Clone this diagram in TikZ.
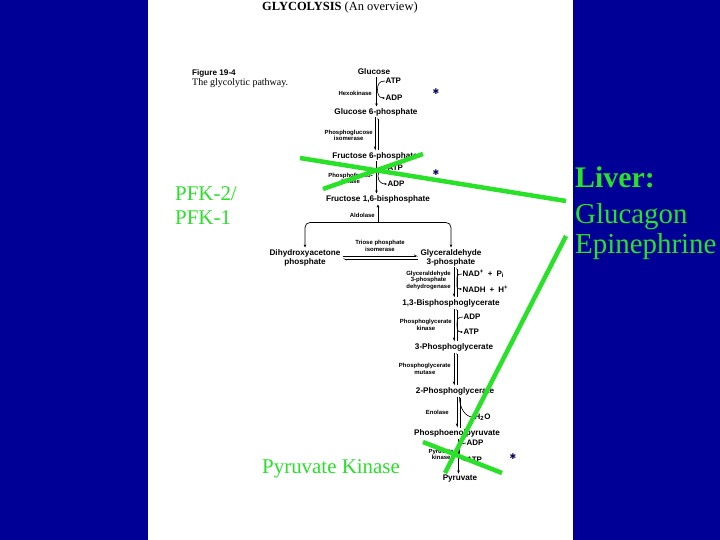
\documentclass[tikz,border=0pt]{standalone}
\usepackage{fontspec}
\setmainfont{Liberation Serif}
\newfontfamily\figsans{Liberation Sans}
\newfontfamily\symfont{DejaVu Sans}
\usetikzlibrary{arrows.meta,calc}
\definecolor{slideblue}{RGB}{0,0,150}
\definecolor{hilite}{RGB}{40,225,40}
\definecolor{stardark}{RGB}{10,10,90}
\begin{document}
\begin{tikzpicture}[x=1bp,y=-1bp,
 met/.style={font=\figsans\bfseries\fontsize{8.2}{9}\selectfont,inner sep=0.5pt,align=center},
 enz/.style={font=\figsans\bfseries\fontsize{6}{6.5}\selectfont,inner sep=0pt,align=center,anchor=east},
 cof/.style={font=\figsans\bfseries\fontsize{8}{9}\selectfont,inner sep=0.5pt,anchor=west},
 fwd/.style={line width=0.7bp,-{Stealth[length=3.2pt,width=2.6pt]},shorten <=1pt,shorten >=1pt},
 half/.style={line width=0.6bp,-{Straight Barb[right,length=2.6pt,width=2.4pt]},shorten <=1pt,shorten >=1pt},
 halfl/.style={line width=0.6bp,-{Straight Barb[left,length=2.6pt,width=2.4pt]}},
 side/.style={line width=0.6bp,-{Stealth[length=2.6pt,width=2.2pt]}},
 note/.style={text=hilite,inner sep=0pt,anchor=base west,font=\fontsize{21}{24}\selectfont},
 big/.style={text=hilite,inner sep=0pt,anchor=base west,font=\fontsize{29}{32}\selectfont},
 strike/.style={hilite,line width=4.5bp},
 star/.style={text=stardark,inner sep=0pt,font=\symfont\fontsize{8}{8}\selectfont}]
 \useasboundingbox (0,0) rectangle (720,540);
 \fill[slideblue] (0,0) rectangle (720,540);
 \fill[white] (148,0) rectangle (573,540);
 \node[inner sep=0pt,anchor=base west,font=\fontsize{12.5}{13}\selectfont] (title) at (262,11) {\textbf{GLYCOLYSIS} (An overview)};
 \node[anchor=base west,inner sep=0pt,font=\figsans\bfseries\fontsize{8.2}{9}\selectfont] (figno) at (192,76) {Figure 19-4};
 \node[anchor=base west,inner sep=0pt,font=\fontsize{10}{10}\selectfont] (figcap) at (192,85.5) {The glycolytic pathway.};
 \node[met] (glc) at (374,72) {Glucose};
 \node[met] (g6p) at (376,112) {Glucose 6-phosphate};
 \node[met] (f6p) at (375,156) {Fructose 6-phosphate};
 \node[met] (fbp) at (378,199) {Fructose 1,6-bisphosphate};
 \node[met] (dhap) at (305,257.5) {Dihydroxyacetone\\phosphate};
 \node[met] (gap) at (451,257.5) {Glyceraldehyde\\3-phosphate};
 \node[met] (bpg) at (451,303) {1,3-Bisphosphoglycerate};
 \node[met] (pg3) at (454,347) {3-Phosphoglycerate};
 \node[met] (pg2) at (455,391) {2-Phosphoglycerate};
 \node[met] (pep) at (457,433) {Phosphoenolpyruvate};
 \node[met] (pyr) at (460,479) {Pyruvate};
 \node[enz] (ezhk) at (372,93) {Hexokinase};
 \node[enz] (ezpgi) at (373,135.5) {Phosphoglucose\\isomerase};
 \node[enz] (ezpfk) at (373,178.5) {Phosphofructo-\\kinase};
 \node[enz] (ezald) at (375,215) {Aldolase};
 \node[enz,anchor=center] (eztpi) at (380,246) {Triose phosphate\\isomerase};
 \node[enz] (ezgapdh) at (451,280) {Glyceraldehyde\\3-phosphate\\dehydrogenase};
 \node[enz] (ezpgk) at (452,325) {Phosphoglycerate\\kinase};
 \node[enz] (ezpgm) at (451,369) {Phosphoglycerate\\mutase};
 \node[enz] (ezeno) at (449,412) {Enolase};
 \node[enz] (ezpk) at (454,454.5) {Pyruvate\\kinase};
 \node[cof] (atpa) at (385,81) {ATP};
 \node[cof] (adpa) at (385,98) {ADP};
 \node[cof] (atpb) at (387,168) {ATP};
 \node[cof] (adpb) at (387,184) {ADP};
 \node[cof] (nad) at (462,274) {NAD\textsuperscript{+}\enspace+\enspace P\textsubscript{i}};
 \node[cof] (nadh) at (462,289) {NADH\enspace+\enspace H\textsuperscript{+}};
 \node[cof] (adpc) at (463,317) {ADP};
 \node[cof] (atpc) at (463,332) {ATP};
 \node[cof] (water) at (474,417) {H\textsubscript{2}O};
 \node[cof] (adpd) at (466,443) {ADP};
 \node[cof] (atpd) at (466,460) {ATP};
 \coordinate (colA) at (376.5,0);
 \coordinate (colB) at (455.5,0);
 \coordinate (colC) at (458.5,0);
 \coordinate (split) at (378,222.5);
 \coordinate (hk) at (377.5,89.5);
 \coordinate (pfk) at (378,176);
 \coordinate (gapdh) at (457,281.5);
 \coordinate (pgk) at (457,324.5);
 \coordinate (enol) at (459.5,397);
 \coordinate (pyk) at (459.5,451.5);
 \draw[fwd] (glc.south -| colA) -- (g6p.north -| colA);
 \draw[fwd] (f6p.south -| colA) -- (fbp.north -| colA);
 \draw[fwd] (pep.south -| colC) -- (pyr.north -| colC);
 \foreach \sa/\sb/\sc in {g6p/f6p/colA,gap/bpg/colB,bpg/pg3/colB,pg3/pg2/colB,pg2/pep/colC}{
  \draw[half] ($(\sa.south -| \sc)+(-1.3,0)$) -- ($(\sb.north -| \sc)+(-1.3,0)$);
  \draw[half] ($(\sb.north -| \sc)+(1.3,0)$) -- ($(\sa.south -| \sc)+(1.3,0)$);
 }
 \foreach \sa/\sm/\sb in {atpa/hk/adpa,atpb/pfk/adpb,nad/gapdh/nadh,adpc/pgk/atpc,adpd/pyk/atpd}
  \draw[side] (\sa.west) .. controls +(-6,0) and +(0,-5) .. (\sm) .. controls +(0,5) and +(-6,0) .. (\sb.west);
 \draw[side] (enol) .. controls +(0,12) and +(-8,0) .. (water.west);
 \draw[fwd,shorten <=0pt] (split) -- (fbp.south -| split);
 \draw[fwd,rounded corners=5,shorten <=0pt] (split) -| (dhap.north);
 \draw[fwd,rounded corners=5,shorten <=0pt] (split) -| (gap.north);
 \draw[halfl] ($(dhap.east)+(2,-1.5)$) -- ($(gap.west)+(-2,-1.5)$);
 \draw[halfl] ($(gap.west)+(-2,1.5)$) -- ($(dhap.east)+(2,1.5)$);
 \draw[strike] (300,158) -- (566,201);
 \draw[strike] (323,189) -- (423,154);
 \draw[strike] (445,473) -- (566,236);
 \draw[strike] (423,442) -- (502,473);
 \node[note] (pfkup) at (175,201) {PFK-2/};
 \node[note] (pfklow) at (175,225) {PFK-1};
 \node[note] (pklab) at (262,473) {Pyruvate Kinase};
 \node[big,font=\bfseries\fontsize{30}{32}\selectfont] (liver) at (575,188) {Liver:};
 \node[big] (glucagon) at (575,224) {Glucagon};
 \node[big] (epi) at (575,254) {Epinephrine};
 \node[star] (star1) at (436,92) {✱};
 \node[star] (star2) at (436,173) {✱};
 \node[star] (star3) at (513,457) {✱};
\end{tikzpicture}
\end{document}
